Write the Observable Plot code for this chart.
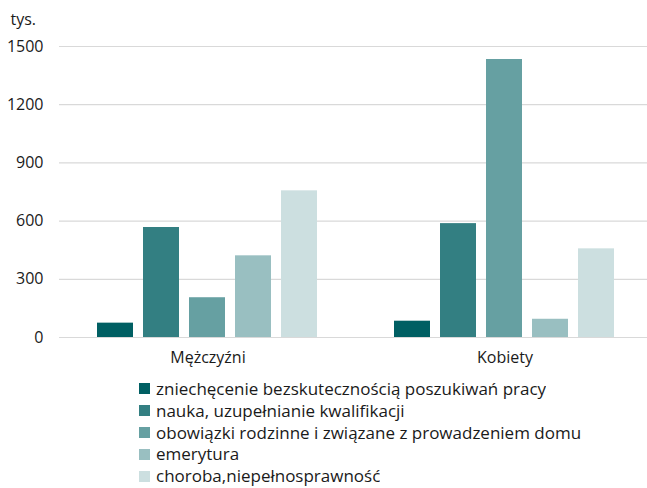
<!DOCTYPE html>
<html>
<head>
<meta charset="utf-8">
<script src="https://cdn.jsdelivr.net/npm/d3@7"></script>
<script src="https://cdn.jsdelivr.net/npm/@observablehq/plot@0.6"></script>
<style>
  html, body { margin: 0; padding: 0; background: #fff; overflow: hidden; }
  #chart { width: 647px; }
  .lg-swatches { margin-left: 139px; margin-top: 3px; }
  .lg-swatch { line-height: 21.8px; padding-bottom: 0 !important; }
  .lg-swatch svg { margin-right: 6px !important; }
</style>
</head>
<body>
<div id="chart"></div>
<script>
const groups = ["Mężczyźni", "Kobiety"];
const causes = [
  "zniechęcenie bezskutecznością poszukiwań pracy",
  "nauka, uzupełnianie kwalifikacji",
  "obowiązki rodzinne i związane z prowadzeniem domu",
  "emerytura",
  "choroba,niepełnosprawność"
];
const men = [74, 567, 205, 421, 756];
const women = [84, 587, 1433, 94, 457];
const colors = ["#005f63", "#337f82", "#66a0a2", "#99bfc1", "#ccdfe0"];
const yTicks = [0, 300, 600, 900, 1200, 1500];
const unitLabel = ["tys."];

const data = [];
causes.forEach((c, i) => {
  data.push({group: groups[0], cause: c, value: men[i]});
  data.push({group: groups[1], cause: c, value: women[i]});
});

const font = "'Open Sans', sans-serif";

const plot = Plot.plot({
  width: 647,
  height: 375,
  marginLeft: 59,
  marginRight: -6,
  marginTop: 46,
  marginBottom: 38,
  style: {fontFamily: font, fontSize: "16px", color: "#1a1a1a", background: "#fff", overflow: "visible"},
  fx: {domain: groups, padding: 0, label: null, axis: "bottom", tickSize: 0, tickPadding: 14},
  x: {domain: causes, axis: null, paddingInner: 0.217, paddingOuter: 0.8},
  y: {domain: [0, 1500], ticks: yTicks, tickSize: 0, tickPadding: 16, tickFormat: d3.format("d"), label: null},
  color: {domain: causes, range: colors},
  marks: [
    Plot.gridY(yTicks, {stroke: "#d9d9d9", strokeOpacity: 1, strokeWidth: 1.2}),
    Plot.barY(data, {fx: "group", x: "cause", y: "value", fill: "cause"}),
    Plot.text(unitLabel, {fx: [groups[0]], text: d => d, frameAnchor: "top-left", textAnchor: "start", lineAnchor: "middle", dx: -49, dy: -27, fill: "#1a1a1a"})
  ]
});

document.getElementById("chart").append(plot);

const legend = plot.legend("color", {
  columns: 1,
  className: "lg",
  swatchSize: 11,
  style: {fontFamily: font, fontSize: "17px", color: "#1a1a1a"}
});
document.getElementById("chart").append(legend);
</script>
</body>
</html>
